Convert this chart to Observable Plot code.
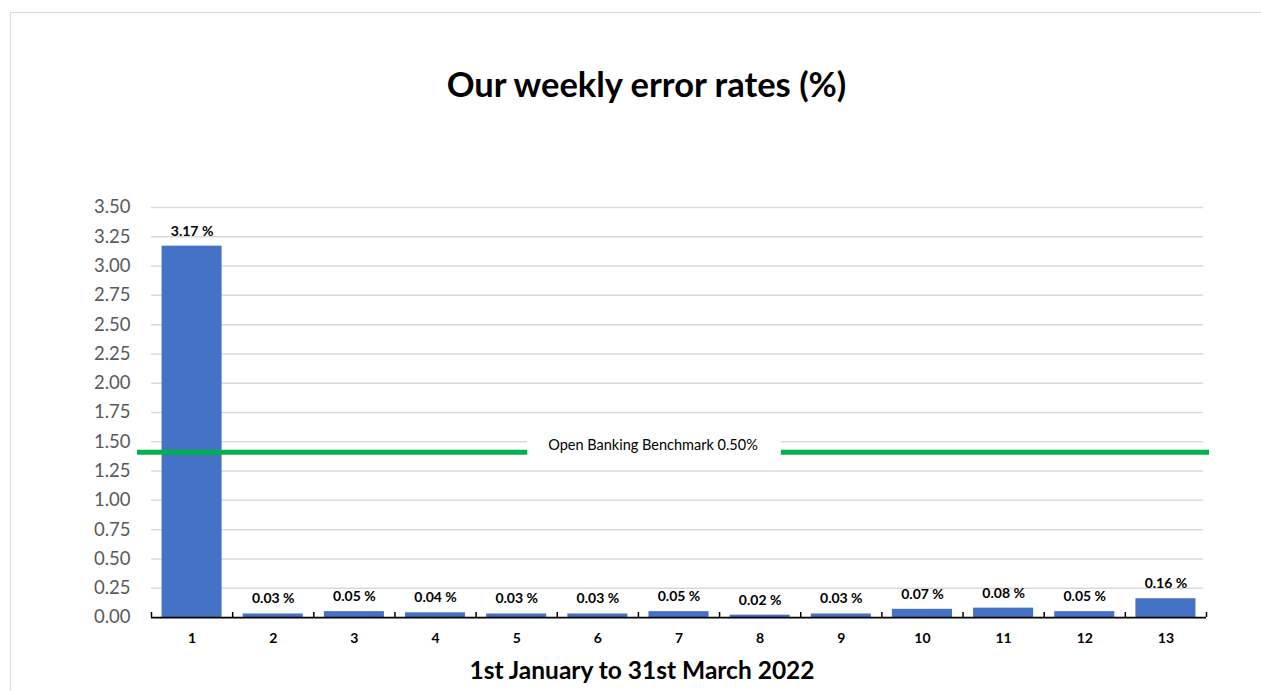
<!DOCTYPE html>
<html><head><meta charset="utf-8">
<script src="https://cdn.jsdelivr.net/npm/d3@7"></script>
<script src="https://cdn.jsdelivr.net/npm/@observablehq/plot@0.6"></script>
<style>
html,body{margin:0;padding:0;background:#fff;}
#wrap{position:relative;width:1261px;height:691px;overflow:hidden;font-family:Lato,"Open Sans",sans-serif;}
#frame{position:absolute;left:10px;top:12px;width:1300px;height:800px;border-left:1.5px solid #d9d9d9;border-top:1.5px solid #d9d9d9;box-sizing:border-box;}
#title{position:absolute;top:67px;left:0;width:1293px;text-align:center;font-weight:700;font-size:34.5px;line-height:34px;color:#000;}
#xtitle{position:absolute;top:658px;left:0;width:1284px;text-align:center;font-weight:700;font-size:24.5px;line-height:24px;color:#000;}
#chart{position:absolute;left:0;top:0;}
</style>
</head><body>
<div id="wrap">
  <div id="frame"></div>
  <div id="chart"></div>
  <div id="title">Our weekly error rates (%)</div>
  <div id="xtitle">1st January to 31st March 2022</div>
</div>
<script>
const weeks = [1,2,3,4,5,6,7,8,9,10,11,12,13];
const rates = [3.17,0.03,0.05,0.04,0.03,0.03,0.05,0.02,0.03,0.07,0.08,0.05,0.16];
const yTicks = [0,0.25,0.5,0.75,1,1.25,1.5,1.75,2,2.25,2.5,2.75,3,3.25,3.5];
const benchmarkLevel = 1.41;
const benchmarkLabel = "Open Banking Benchmark 0.50%";

const data = weeks.map((w,i)=>({week:w, rate:rates[i], label: rates[i].toFixed(2) + " %"}));
const boundaries = [0, ...weeks].map(w => w + 0.5);
const halfBar = 0.37;

const chart = Plot.plot({
  width: 1261,
  height: 691,
  marginLeft: 151,
  marginRight: 55,
  marginTop: 207,
  marginBottom: 74,
  style: {background: "transparent", fontFamily: "Lato, 'Open Sans', sans-serif"},
  x: {type: "linear", domain: [0.5, 13.5], axis: null},
  y: {domain: [0, 3.5], axis: null},
  marks: [
    Plot.ruleY(yTicks.filter(d => d > 0), {y: d => d, stroke: "#d9d9d9", strokeWidth: 1.5, insetRight: 3}),
    Plot.text(yTicks, {y: d => d, text: d => d.toFixed(2), frameAnchor: "left", textAnchor: "end", dx: -21, fill: "#595959", fontSize: 18.5}),
    Plot.rectY(data, {x1: d => d.week - halfBar, x2: d => d.week + halfBar, y1: 0, y2: "rate", fill: "#4472C4"}),
    Plot.ruleY([benchmarkLevel], {y: d => d, stroke: "#00b050", strokeWidth: 5, insetLeft: -14, insetRight: -3}),
    Plot.text([benchmarkLabel], {y: () => benchmarkLevel, text: d => d, frameAnchor: "middle", dx: -26, dy: -7, fill: "#000", fontSize: 14.5}),
    Plot.ruleY([0], {y: d => d, stroke: "#000", strokeWidth: 1.75}),
    Plot.ruleX(boundaries, {x: d => d, y1: 0, y2: 0, insetBottom: 5, stroke: "#000", strokeWidth: 1.5}),
    Plot.text(data, {x: "week", y: "rate", text: "label", dy: -15, fontWeight: "bold", fontSize: 14, fill: "#000"}),
    Plot.text(weeks, {x: d => d, y: () => 0, text: d => String(d), dy: 21, fontWeight: "bold", fontSize: 14, fill: "#000"})
  ]
});
document.getElementById("chart").appendChild(chart);

// white box behind the benchmark label
d3.select(chart).selectAll("text").filter(function(){ return this.textContent === benchmarkLabel; }).each(function(){
  const bb = this.getBBox();
  const r = document.createElementNS("http://www.w3.org/2000/svg", "rect");
  r.setAttribute("x", bb.x - 21);
  r.setAttribute("y", bb.y - 6);
  r.setAttribute("width", bb.width + 44);
  r.setAttribute("height", bb.height + 12);
  r.setAttribute("fill", "#fff");
  const t = this.getAttribute("transform");
  if (t) r.setAttribute("transform", t);
  this.parentNode.insertBefore(r, this);
});
</script>
</body></html>
